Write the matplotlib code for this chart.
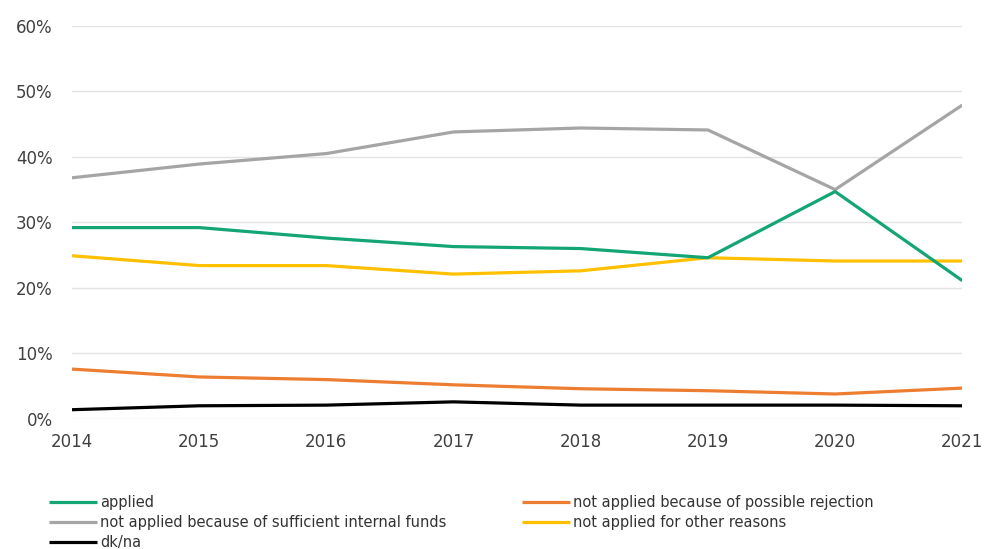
import matplotlib.pyplot as plt
from matplotlib.ticker import PercentFormatter

years = [2014, 2015, 2016, 2017, 2018, 2019, 2020, 2021]

applied = [29.2, 29.2, 27.6, 26.3, 26.0, 24.6, 34.7, 21.1]
rejection = [7.6, 6.4, 6.0, 5.2, 4.6, 4.3, 3.8, 4.7]
internal_funds = [36.8, 38.9, 40.5, 43.8, 44.4, 44.1, 35.0, 47.9]
other_reasons = [24.9, 23.4, 23.4, 22.1, 22.6, 24.6, 24.1, 24.1]
dk_na = [1.4, 2.0, 2.1, 2.6, 2.1, 2.1, 2.1, 2.0]

series = [
    ("applied", applied, "#13a572"),
    ("not applied because of sufficient internal funds", internal_funds, "#a5a5a5"),
    ("dk/na", dk_na, "#000000"),
    ("not applied because of possible rejection", rejection, "#ed7d31"),
    ("not applied for other reasons", other_reasons, "#ffc000"),
]
# draw order so green sits on top of grey and yellow
draw_order = [1, 4, 3, 2, 0]

fig = plt.figure(figsize=(9.86, 5.49), dpi=100)
ax = fig.add_axes([0.073, 0.237, 0.903, 0.716])

lines = {}
for i in draw_order:
    label, vals, color = series[i]
    (ln,) = ax.plot(years, vals, color=color, linewidth=2.3, label=label,
                    solid_capstyle="butt")
    lines[i] = ln

ax.set_xlim(2014, 2021)
ax.set_ylim(0, 60)
ax.set_yticks(range(0, 61, 10))
ax.yaxis.set_major_formatter(PercentFormatter(decimals=0))
ax.set_xticks(years)
ax.grid(axis="y", color="#e3e3e3", linewidth=1)
ax.set_axisbelow(True)
for s in ax.spines.values():
    s.set_visible(False)
ax.tick_params(length=0, labelsize=12, colors="#404040")
ax.tick_params(axis="y", pad=14)
ax.tick_params(axis="x", pad=10)

handles = [lines[i] for i in range(5)]
fig.legend(handles, [s[0] for s in series], ncol=2, loc="upper left",
           bbox_to_anchor=(0.05, 0.099), frameon=False, fontsize=10.5,
           handlelength=3.3, handletextpad=0.2, labelspacing=0.37,
           columnspacing=5.15, borderaxespad=0, borderpad=0,
           labelcolor="#333333")

fig.savefig("out.png", dpi=100)
